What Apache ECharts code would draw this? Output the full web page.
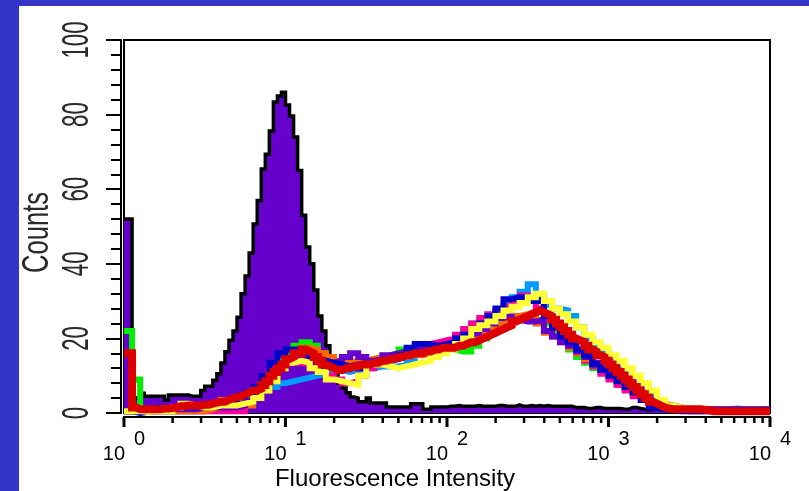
<!DOCTYPE html>
<html>
<head>
<meta charset="utf-8">
<script src="https://cdn.jsdelivr.net/npm/echarts@6/dist/echarts.min.js"></script>
<style>
  html, body { margin: 0; padding: 0; background: #3434c8; width: 809px; height: 491px; overflow: hidden; }
  #chart { position: absolute; left: 19px; top: 6px; width: 790px; height: 485px; background: #fff; }
</style>
</head>
<body>
<div id="chart"></div>
<script>
// histogram bins in decades (log10 of intensity)
var fineBin = 0.025;
var coarseBin = 0.05;
var majorTicks = [0, 1, 2, 3, 4];
var minorMult = [2, 3, 4, 5, 6, 7, 8, 9];
var yTicks = [0, 20, 40, 60, 80, 100];

// control sample (filled purple with black outline), 160 bins
var control = [
  52, 52, 4, 4, 5.3, 4.5, 4.5, 4.5, 4.5, 4.5,
  3.5, 4.8, 4.8, 4.8, 4.8, 4.8, 4.5, 4.5, 4.5, 6,
  7.2, 7.2, 8.8, 10.5, 13.4, 16.4, 19.5, 22, 25.7, 32,
  36.7, 42.9, 50.7, 57, 65.4, 69.4, 75.6, 83.4, 85, 86,
  82.6, 79.6, 74, 65, 53, 44.5, 40, 33, 26, 22,
  18, 14, 11, 8, 6.7, 5.4, 4.3, 4, 3, 3,
  4, 2.7, 2.7, 2.7, 2.7, 1.6, 1.6, 1.6, 1.6, 1.6,
  1.6, 2.5, 2.5, 2.5, 1, 1, 1.6, 1.6, 1.6, 1.6,
  1.8, 1.8, 2, 1.8, 1.8, 1.8, 1.8, 2, 1.8, 1.8,
  1.8, 1.8, 2, 2, 1.8, 1.8, 1.8, 2.2, 1.8, 1.8,
  2, 1.8, 2, 1.8, 2, 1.8, 1.8, 1.8, 1.8, 1.8,
  1.8, 1.5, 1.5, 1.5, 1.2, 1.2, 1.5, 1.5, 1.2, 1.2,
  1.2, 1.2, 1.2, 1, 1, 1.5, 1.5, 1.2, 1, 0.8,
  1, 1, 1.2, 1.2, 1.2, 0.8, 0.8, 0.8, 0.8, 0.8,
  0.8, 0.8, 0.8, 0.8, 0.8, 0.5, 0.5, 0.5, 0.5, 0.5,
  0.5, 0.5, 0.5, 0.5, 0.5, 0.5, 0.5, 0.5, 0.5, 0.5
];

// red sample, 160 bins
var red = [
  16, 16, 1.5, 1, 1, 1, 1, 1, 1, 1.2,
  1.2, 1.3, 1.5, 1.8, 1.8, 2, 2, 2, 2, 2.2,
  2.2, 2.5, 2.8, 3, 3, 3.5, 4, 4.2, 4.5, 5,
  5.5, 6, 6, 6.5, 7.5, 8.5, 10, 11, 12, 13,
  14.5, 15, 16, 16, 17, 16.5, 16, 15, 14, 13,
  12.5, 12, 11.5, 11.5, 12, 12, 12.5, 12.5, 13, 13,
  13, 13.5, 13.5, 14, 14, 14.5, 14.5, 15, 15, 15.5,
  15.5, 16, 16, 16, 16.5, 16.5, 17, 17, 17.5, 17.5,
  17.5, 17.5, 18, 18, 18.5, 19, 19, 19.5, 20, 20.5,
  21, 21.5, 22, 22.5, 23, 23.5, 24.5, 25, 25.5, 26,
  26.5, 27, 27.5, 27, 26.5, 26, 25, 24, 23, 22,
  21, 20, 19.5, 19, 18, 17, 16.5, 15.5, 15, 14,
  13, 12, 11, 10, 9, 8, 7, 6, 5, 4,
  3, 2.5, 2, 1.5, 1.2, 1, 1, 1, 1, 1,
  1, 1, 1, 0.8, 0.8, 0.5, 0.5, 0.5, 0.5, 0.5,
  0.5, 0.5, 0.5, 0.5, 0.5, 0.5, 0.5, 0.5, 0.5, 0.5
];

// other samples, 80 bins
var blue = [
  0.5, 0, 0.3, 0.5, 1.5, 1.5, 1.5, 1.5, 1.5, 2,
  2, 2.5, 3, 3.5, 4.5, 5.5, 7, 10, 13.5, 16,
  17, 17, 16, 15, 14, 13.5, 13, 12.5, 13, 12,
  13, 13.5, 14, 14.5, 15.5, 17.5, 18.5, 18.5, 18, 18.5,
  19, 20, 21, 22.5, 24, 26, 28, 30.5, 31, 31,
  30, 30.5, 26, 23, 20.5, 19, 17, 15.5, 13, 11.5,
  10, 8.5, 7, 5.5, 3.5, 1.5, 1, 0.8, 0.5, 0.5,
  0.5, 0.5, 0.5, 0.8, 0.8, 0.8, 0.8, 0.8, 0.8, 0.8
];
var yellow = [
  0.5, 0.5, 0.3, 0.5, 0.5, 0.5, 1.5, 2.5, 2, 1.5,
  1.5, 2, 2, 2, 2.5, 3, 4, 6, 8.5, 12,
  13.5, 14, 13.5, 12, 11, 9, 8.5, 8, 7.5, 10,
  13, 13, 12.5, 12, 12.5, 13, 13.5, 14, 15, 16,
  17, 18.5, 20, 22.5, 23.5, 24.5, 26, 27.5, 28.5, 29.5,
  31, 32, 30, 28, 26.5, 24.5, 23, 21, 19, 17.5,
  15.5, 14, 12, 10, 8, 6, 3.5, 2, 1.5, 1.2,
  1, 0.8, 0.5, 0.5, 0.5, 0.5, 0.5, 0.5, 0.5, 0.5
];
var violet = [
  0.5, 1, 1, 1, 1, 1, 1, 1, 1, 1.5,
  1.5, 1.5, 1.5, 1.5, 2, 3, 4, 6, 9, 12,
  14, 15, 15, 14, 13, 13.5, 14, 15, 16, 15,
  14, 14.5, 15.5, 16, 16.5, 17, 17.5, 17.5, 17.5, 18,
  18.5, 20, 21, 21.5, 22.5, 24, 25.5, 26, 25, 24.5,
  24.5, 25, 22, 20.5, 19, 18, 16.5, 15, 13.5, 12,
  10.5, 9.5, 8, 6, 4.5, 3.5, 2.5, 1.5, 1, 1,
  1, 1, 1, 1, 1, 1, 1, 1, 1, 1
];
var cyan = [
  0.5, 0.5, 0.5, 0.5, 0.5, 0.5, 0.5, 0.5, 0.5, 0.5,
  1, 1, 1, 1, 1.5, 3, 6, 6, 7, 8,
  8.5, 9, 9.5, 10, 10.5, 11, 11.5, 11, 11.5, 12,
  12, 12.5, 12.5, 12.5, 13, 14, 16, 17.5, 18, 18.5,
  19, 19.5, 21, 24, 25, 25.5, 27, 29, 31, 32.5,
  34.5, 31, 29, 28, 27.5, 26, 23, 20, 18, 16,
  14, 11.5, 9, 7, 5.5, 4.5, 3, 2, 1.5, 1,
  1, 1, 1, 1, 1, 1.2, 1, 1, 1, 1
];
var green = [
  22, 9, 1, 1, 1, 1, 1, 1, 1, 1,
  1.5, 1.5, 1.5, 1.5, 4, 5, 6, 8, 11, 14,
  16, 18, 19, 18, 16, 14, 13, 13, 13.5, 14,
  14.5, 15, 15.5, 16, 17, 17.5, 18, 18.5, 18, 17.5,
  17, 16.5, 16.5, 18, 20, 22, 24, 25.5, 26, 26,
  26, 25, 24, 22, 20, 17, 15, 13.5, 12, 11,
  9.5, 8, 6.5, 5, 4, 3.5, 3, 2, 1.5, 0.8,
  0.8, 0.8, 0.8, 0.8, 0.8, 0.8, 0.8, 0.8, 0.8, 0.8
];
var orange = [
  0.5, 0.5, 0.5, 0.5, 0.5, 0.5, 0.5, 0.5, 0.5, 0.5,
  1, 1.5, 3.5, 4, 2, 2, 4, 6, 9, 12,
  14, 16, 17.5, 17, 16, 15, 14, 14, 13.5, 14,
  14.5, 15, 15, 15, 15, 15.5, 15.5, 16, 16.5, 17,
  18, 19, 20, 21, 22, 22.5, 23.5, 25, 26, 26.5,
  27, 24, 21.5, 20.5, 19, 17.5, 16, 14.5, 13, 11.5,
  10, 8.5, 7, 5.5, 4.5, 3.5, 2.5, 2, 1.5, 1,
  1, 1, 1, 1, 0.5, 0.5, 0.5, 0.5, 0.5, 0.5
];
var magenta = [
  0.5, 0.5, 0.5, 0.5, 0.5, 0.5, 0.5, 0.5, 0.5, 0.5,
  0.5, 0.5, 0.5, 0.5, 0.5, 3, 7, 10, 12, 13,
  13.5, 13.5, 13, 12, 11, 10, 9, 8, 8.5, 10,
  12, 13, 14, 14.5, 15.5, 16.5, 17.5, 18.5, 19, 19.5,
  20, 21, 22.5, 24, 25.5, 26.5, 27.5, 28.5, 29.5, 31.5,
  30, 28, 25, 23, 20.5, 18.5, 16, 14, 12.5, 10.5,
  9, 7.5, 6, 4.5, 3.5, 2.5, 2, 1.5, 1, 0.5,
  0.5, 0.5, 0.5, 0.5, 0.5, 0.5, 0.5, 0.5, 0.5, 0.5
];

// [left edge, count] pairs + closing right edge, drawn with step 'end'
function steps(values, bin) {
  var pts = values.map(function (v, i) { return [i * bin, v]; });
  pts.push([values.length * bin, values[values.length - 1]]);
  return pts;
}

function overlay(name, values, bin, color, width) {
  return {
    name: name,
    type: 'line',
    step: 'end',
    showSymbol: false,
    data: steps(values, bin),
    lineStyle: { color: color, width: width, join: 'miter' }
  };
}

// log axis ticks below the x axis, drawn from the axis scale
function tickSeries(values, len, width) {
  return {
    type: 'custom',
    clip: false,
    silent: true,
    z: 5,
    data: values.map(function (v) { return [v, 0]; }),
    renderItem: function (params, api) {
      var p = api.coord([api.value(0), 0]);
      return {
        type: 'line',
        shape: { x1: p[0], y1: p[1] + 4, x2: p[0], y2: p[1] + 4 + len },
        style: { stroke: '#000', lineWidth: width }
      };
    }
  };
}

var minorValues = [];
for (var d = 0; d < 4; d++) {
  minorMult.forEach(function (m) { minorValues.push(d + Math.log10(m)); });
}

var sans = "'Liberation Sans', Arial, sans-serif";

var chart = echarts.init(document.getElementById('chart'));
chart.setOption({
  animation: false,
  backgroundColor: '#fff',
  grid: {
    left: 105, right: 39, top: 34, bottom: 78,
    show: true, borderColor: '#000', borderWidth: 2, backgroundColor: 'transparent'
  },
  xAxis: {
    type: 'value', min: 0, max: 4, interval: 1,
    axisLine: { show: false },
    axisTick: { show: false },
    splitLine: { show: false },
    axisLabel: { show: false }
  },
  yAxis: {
    type: 'value', min: 0, max: 100, interval: 20, offset: 3, position: 'left',
    axisLine: { show: true, onZero: false, lineStyle: { color: '#000', width: 2 } },
    axisTick: { show: true, length: 15, lineStyle: { color: '#000', width: 2 } },
    minorTick: { show: true, splitNumber: 5, length: 10, lineStyle: { color: '#000', width: 2 } },
    splitLine: { show: false },
    axisLabel: { show: false }
  },
  series: [
    {
      name: 'control',
      type: 'line',
      step: 'end',
      showSymbol: false,
      data: steps(control, fineBin),
      lineStyle: { color: '#000', width: 3.5, join: 'miter' },
      areaStyle: { color: '#6600cc', opacity: 1 }
    },
    overlay('green', green, coarseBin, '#00ee00', 6),
    overlay('cyan', cyan, coarseBin, '#0099ff', 6),
    overlay('magenta', magenta, coarseBin, '#ff0099', 6),
    overlay('orange', orange, coarseBin, '#ff6600', 6),
    overlay('violet', violet, coarseBin, '#6600cc', 6),
    overlay('blue', blue, coarseBin, '#0000cc', 6),
    overlay('yellow', yellow, coarseBin, '#ffff33', 6),
    overlay('red', red, fineBin, '#dd0000', 8),
    tickSeries(majorTicks, 10, 3),
    tickSeries(minorValues, 6, 2.5)
  ]
});

var graphics = [];
// axis line just below the plot frame
var x0 = chart.convertToPixel({ xAxisIndex: 0 }, 0);
var x4 = chart.convertToPixel({ xAxisIndex: 0 }, 4);
var y0 = chart.convertToPixel({ yAxisIndex: 0 }, 0);
var y100 = chart.convertToPixel({ yAxisIndex: 0 }, 100);
graphics.push({
  type: 'line', z: 10,
  shape: { x1: x0 - 1, y1: y0 + 4, x2: x4 + 1, y2: y0 + 4 },
  style: { stroke: '#000', lineWidth: 2 }
});
// x labels: 10 with raised exponent
majorTicks.forEach(function (v) {
  var px = chart.convertToPixel({ xAxisIndex: 0 }, v);
  graphics.push({
    type: 'text', x: px + 1, y: y0 + 51,
    style: { text: '10', font: '20px ' + sans, fill: '#000', textAlign: 'right', textVerticalAlign: 'bottom' }
  });
  graphics.push({
    type: 'text', x: px + 10, y: y0 + 36,
    style: { text: String(v), font: '20px ' + sans, fill: '#000', textAlign: 'left', textVerticalAlign: 'bottom' }
  });
});
// condensed, rotated y labels placed with the axis scale
yTicks.forEach(function (v) {
  graphics.push({
    type: 'text',
    x: 59,
    y: chart.convertToPixel({ yAxisIndex: 0 }, v),
    rotation: Math.PI / 2,
    scaleX: 0.62,
    style: { text: String(v), font: '36px ' + sans, fill: '#2a2a2a', textAlign: 'center', textVerticalAlign: 'middle' }
  });
});
graphics.push({
  type: 'text', x: 19, y: (y0 + y100) / 2 + 6, rotation: Math.PI / 2, scaleX: 0.71,
  style: { text: 'Counts', font: '36px ' + sans, fill: '#2a2a2a', textAlign: 'center', textVerticalAlign: 'middle' }
});
graphics.push({
  type: 'text', x: 376, y: 461,
  style: { text: 'Fluorescence Intensity', font: '24px ' + sans, fill: '#000', textAlign: 'center', textVerticalAlign: 'top' }
});
chart.setOption({ graphic: graphics });
</script>
</body>
</html>
